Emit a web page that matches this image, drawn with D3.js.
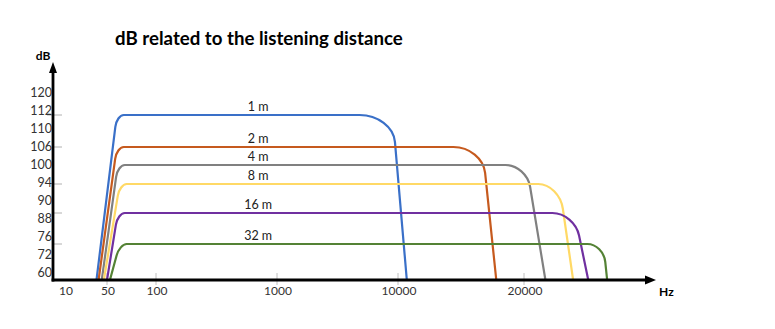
<!DOCTYPE html>
<html>
<head>
<meta charset="utf-8">
<script src="https://cdn.jsdelivr.net/npm/d3@7"></script>
<style>
  html, body { margin: 0; padding: 0; background: #fff; }
  svg { display: block; }
</style>
</head>
<body>
<svg id="chart" width="775" height="329"></svg>
<script>
// ---------- DATA ----------
const categories = ["1 m", "2 m", "4 m", "8 m", "16 m", "32 m"];
const levels     = [112, 106, 100, 94, 88, 76];          // dB plateau
const startHz    = [40, 42, 45, 47, 50, 53];              // where curve leaves 60 dB
const riseHz     = [60, 60, 61, 63, 61, 63];              // top-left corner
const fallHz     = [9600, 16700, 20200, 22800, 24000, 26300]; // top-right corner
const endHz      = [10700, 17800, 21700, 23900, 25100, 26600]; // back at 60 dB
const baseDb     = 60;
const xTickValues = [10, 50, 100, 1000, 10000, 20000];
const yTickLabels = [60, 72, 76, 88, 90, 94, 100, 106, 110, 112, 120];
const yMarkValues = [112, 106, 94, 88, 76];
const labelHz = 860;

// ---------- STYLE ----------
const colors = ["#3a70c8", "#c65a1e", "#808080", "#ffd966", "#7030a0", "#548235"];
const rightIn  = [33, 29, 21, 21, 22, 16];
const rightOut = [27, 26, 22, 25, 23, 18];
const leftIn = 12, leftOut = 7;
const font = "Lato, 'Open Sans', sans-serif";

const svg = d3.select("#chart");

// schematic (non-uniform) axes
const x = d3.scaleLinear()
  .domain([10, 50, 100, 1000, 10000, 20000, 30000])
  .range([65, 107, 156, 277, 398, 524, 650]);
const y = d3.scaleLinear()
  .domain([60, 76, 88, 94, 100, 106, 112, 120])
  .range([280, 244, 213, 184, 165, 147, 115, 93]);
const yLab = d3.scalePoint().domain(yTickLabels).range([273, 93]);

const axisX0 = 53, axisY0 = 280;

// ---------- CURVES ----------
function curvePath(i) {
  const P0 = [x(startHz[i]), y(baseDb)];
  const C1 = [x(riseHz[i]), y(levels[i])];
  const C2 = [x(fallHz[i]), y(levels[i])];
  const P3 = [x(endHz[i]), y(baseDb)];
  const unit = (a, b) => { const dx = b[0]-a[0], dy = b[1]-a[1], l = Math.hypot(dx, dy); return [dx/l, dy/l]; };
  const u1 = unit(P0, C1), u2 = unit(C2, P3);
  const A = [C1[0] - u1[0]*leftIn, C1[1] - u1[1]*leftIn];
  const B = [C1[0] + leftOut, C1[1]];
  const D = [C2[0] - rightIn[i], C2[1]];
  const E = [C2[0] + u2[0]*rightOut[i], C2[1] + u2[1]*rightOut[i]];
  const k = 0.552;
  const p = d3.path();
  p.moveTo(P0[0], P0[1]);
  p.lineTo(A[0], A[1]);
  p.bezierCurveTo(A[0] + k*(C1[0]-A[0]), A[1] + k*(C1[1]-A[1]),
                  B[0] + k*(C1[0]-B[0]), B[1] + k*(C1[1]-B[1]), B[0], B[1]);
  p.lineTo(D[0], D[1]);
  p.bezierCurveTo(D[0] + k*(C2[0]-D[0]), D[1] + k*(C2[1]-D[1]),
                  E[0] + k*(C2[0]-E[0]), E[1] + k*(C2[1]-E[1]), E[0], E[1]);
  p.lineTo(P3[0], P3[1]);
  return p.toString();
}

// y marks (gray short ticks at plateau levels)
svg.append("g").selectAll("line").data(yMarkValues).join("line")
  .attr("x1", (d, i) => d === 112 ? 47 : axisX0)
  .attr("x2", 62)
  .attr("y1", d => y(d)).attr("y2", d => y(d))
  .attr("stroke", "#b0b0b0").attr("stroke-width", 1);

// x ticks
svg.append("g").selectAll("line").data(xTickValues.filter(d => d !== 10)).join("line")
  .attr("x1", d => x(d)).attr("x2", d => x(d))
  .attr("y1", 273).attr("y2", 285)
  .attr("stroke", "#c0c0c0").attr("stroke-width", 1);

svg.append("g").selectAll("path").data(categories).join("path")
  .attr("d", (d, i) => curvePath(i))
  .attr("fill", "none")
  .attr("stroke", (d, i) => colors[i])
  .attr("stroke-width", 2.2)
  .attr("stroke-linejoin", "round");

// curve labels
svg.append("g").selectAll("text").data(categories).join("text")
  .attr("x", x(labelHz))
  .attr("y", (d, i) => y(levels[i]) - 4)
  .attr("text-anchor", "middle")
  .attr("font-family", font).attr("font-size", 12.5)
  .attr("fill", "#222")
  .text(d => d);

// ---------- AXES ----------
svg.append("line").attr("x1", axisX0).attr("x2", axisX0).attr("y1", axisY0 + 1.5).attr("y2", 70)
  .attr("stroke", "#000").attr("stroke-width", 2.8);
svg.append("path").attr("d", d3.line()([[axisX0 - 4, 73], [axisX0, 62], [axisX0 + 4, 73]]) + "Z").attr("fill", "#000");
svg.append("line").attr("x1", axisX0 - 1.4).attr("x2", 646).attr("y1", axisY0).attr("y2", axisY0)
  .attr("stroke", "#000").attr("stroke-width", 2.8);
svg.append("path").attr("d", d3.line()([[645, axisY0 - 4.5], [656, axisY0], [645, axisY0 + 4.5]]) + "Z").attr("fill", "#000");

// y tick labels
svg.append("g").selectAll("text").data(yTickLabels).join("text")
  .attr("x", 52)
  .attr("y", d => yLab(d))
  .attr("dy", "0.35em")
  .attr("text-anchor", "end")
  .attr("font-family", font).attr("font-size", 12.5)
  .attr("fill", "#333")
  .text(d => d);

// x tick labels
svg.append("g").selectAll("text").data(xTickValues).join("text")
  .attr("x", d => x(d) + 1)
  .attr("y", 291)
  .attr("dy", "0.35em")
  .attr("text-anchor", "middle")
  .attr("font-family", font).attr("font-size", 12)
  .attr("fill", "#333")
  .text(d => d);

// axis titles
svg.append("text").attr("x", 43).attr("y", 56).attr("dy", "0.35em")
  .attr("text-anchor", "middle").attr("font-family", font).attr("font-weight", "bold")
  .attr("font-size", 12).attr("fill", "#000").text("dB");
svg.append("text").attr("x", 659).attr("y", 292).attr("dy", "0.35em")
  .attr("font-family", font).attr("font-weight", "bold")
  .attr("font-size", 12).attr("fill", "#000").text("Hz");

// chart title
const title = svg.append("text").attr("x", 115).attr("y", 45)
  .attr("font-family", font).attr("font-weight", "bold")
  .attr("font-size", 19).attr("fill", "#000")
  .text("dB related to the listening distance");
const tl = title.node().getComputedTextLength();
title.attr("font-size", 19 * 288 / tl);
</script>
</body>
</html>
